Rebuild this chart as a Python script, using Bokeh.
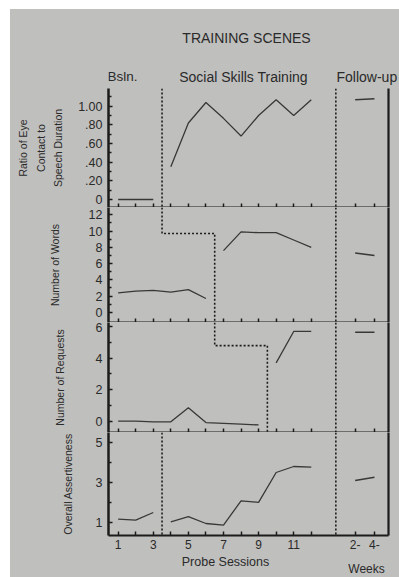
import numpy as np
from bokeh.plotting import figure
from bokeh.models import FixedTicker, LinearAxis, Span, Label, Spacer
from bokeh.layouts import column, row
from bokeh.embed import file_html
from bokeh.resources import INLINE

# ---------------- data ----------------
SESSIONS = list(range(1, 13))
FOLLOWUP_X = [14.5, 15.6]
FOLLOWUP_LABELS = ["2-", "4-"]
FOLLOWUP_LINE_X = 13.4

EYE_BSL = [0.0, 0.0, 0.0]
EYE_TRT = [0.35, 0.82, 1.04, 0.87, 0.68, 0.90, 1.07, 0.90, 1.07]
EYE_FU = [1.07, 1.08]

WORDS_BSL = [2.4, 2.6, 2.7, 2.5, 2.8, 1.7]
WORDS_TRT = [7.6, 9.9, 9.8, 9.8, 8.9, 8.0]
WORDS_FU = [7.3, 7.0]

REQ_BSL = [0.0, 0.0, -0.05, -0.05, 0.85, -0.1, -0.15, -0.2, -0.25]
REQ_TRT = [3.7, 5.7, 5.7]
REQ_FU = [5.65, 5.65]

ASSERT_BSL = [1.17, 1.12, 1.5]
ASSERT_TRT = [1.03, 1.29, 0.95, 0.87, 2.08, 2.01, 3.5, 3.8, 3.77]
ASSERT_FU = [3.1, 3.26]

STEP_LEVELS = [9.7, 4.8]   # heights of the staircase phase line in panels 2 and 3

EYE_TICKS = [0, 0.2, 0.4, 0.6, 0.8, 1.0]
EYE_TICK_LABELS = ["0", ".20", ".40", ".60", ".80", "1.00"]
WORDS_TICKS = [0, 2, 4, 6, 8, 10, 12]
REQ_TICKS = [0, 2, 4, 6]
ASSERT_TICKS = [1, 3, 5]
SESSION_LABELS = ["1", "", "3", "", "5", "", "7", "", "9", "", "11", ""]

TITLE = "TRAINING SCENES"
PHASES = ["Bsln.", "Social Skills Training", "Follow-up"]
YLAB1 = "Ratio of Eye\nContact to\nSpeech Duration"
YLAB2 = "Number of Words"
YLAB3 = "Number of Requests"
YLAB4 = "Overall Assertiveness"
XLAB = "Probe Sessions"
XLAB2 = "Weeks"

# ---------------- style ----------------
BG = "#bfbfbd"
INK = "#2a2a2a"
LINE = "#383838"
AXIS = "#1c1c1c"
FONT = "Liberation Sans"
X_RANGE = (0.45, 16.4)
LEFT = 98


def make_panel(y_range, frame_h, bottom, yticks, ylabel, lab_standoff,
               ylabels=None, yminor=None, last=False):
    p = figure(frame_width=280, frame_height=frame_h, x_range=X_RANGE, y_range=y_range,
               output_backend="svg", toolbar_location=None, title=None,
               min_border_left=LEFT, min_border_right=11, min_border_top=0,
               min_border_bottom=bottom, background_fill_color=BG, border_fill_color=BG,
               outline_line_color=None)
    p.grid.visible = False
    ya = p.yaxis[0]
    ya.ticker = FixedTicker(ticks=yticks, minor_ticks=yminor or [])
    if ylabels:
        ya.major_label_overrides = {t: l for t, l in zip(yticks, ylabels)}
    ya.major_tick_in = 4
    ya.major_tick_out = 0
    ya.minor_tick_in = 3
    ya.minor_tick_out = 0
    ya.axis_line_width = 2.5
    ya.axis_line_color = AXIS
    ya.major_tick_line_color = AXIS
    ya.minor_tick_line_color = AXIS
    ya.major_tick_line_width = 1.5
    ya.minor_tick_line_width = 1.5
    ya.major_label_text_font = FONT
    ya.major_label_text_font_size = "12.5px"
    ya.major_label_text_color = INK
    ya.major_label_standoff = 6
    ya.axis_label = ylabel
    ya.axis_label_text_font = FONT
    ya.axis_label_text_font_size = "10.5px"
    ya.axis_label_text_font_style = "normal"
    ya.axis_label_text_color = INK
    ya.axis_label_text_line_height = 1.45
    ya.axis_label_standoff = lab_standoff

    xa = p.xaxis[0]
    xticks = SESSIONS + FOLLOWUP_X
    xa.ticker = FixedTicker(ticks=xticks, minor_ticks=[])
    xa.major_tick_in = 4
    xa.major_tick_out = 0
    xa.major_tick_line_width = 1.5
    xa.major_tick_line_color = AXIS
    xa.axis_line_width = 2.2
    xa.axis_line_color = AXIS
    if last:
        xa.major_label_overrides = {t: l for t, l in zip(xticks, SESSION_LABELS + FOLLOWUP_LABELS)}
        xa.major_label_text_font = FONT
        xa.major_label_text_font_size = "12px"
        xa.major_label_text_color = INK
        xa.major_label_standoff = 4
    else:
        xa.major_label_overrides = {t: "" for t in xticks}
        xa.major_label_text_font_size = "0px"
        xa.major_label_standoff = 0

    ra = LinearAxis(ticker=FixedTicker(ticks=[]), major_label_text_font_size="0px",
                    major_tick_in=0, major_tick_out=0, minor_tick_in=0, minor_tick_out=0,
                    major_label_standoff=0, axis_line_width=2.2, axis_line_color=AXIS)
    p.add_layout(ra, "right")
    p.add_layout(Span(location=FOLLOWUP_LINE_X, dimension="height", line_color=AXIS,
                      line_dash="2 2", line_width=1.6))
    return p


def data_lines(p, bsl, trt, fu):
    nb = len(bsl)
    p.line(SESSIONS[:nb], bsl, line_color=LINE, line_width=1.3)
    p.line(SESSIONS[nb:], trt, line_color=LINE, line_width=1.3)
    p.line(FOLLOWUP_X, fu, line_color=LINE, line_width=1.6)


def text_strip(h):
    # same left edge as the panels' frames; extends to the right edge of the page
    s = figure(frame_width=291, frame_height=h, x_range=(0, 291), y_range=(0, h),
               output_backend="svg", toolbar_location=None, title=None,
               min_border_left=LEFT, min_border_right=0, min_border_top=0, min_border_bottom=0,
               background_fill_color=BG, border_fill_color=BG,
               outline_line_color=None, x_axis_location=None, y_axis_location=None)
    s.grid.visible = False
    return s


def label(p, text, x, y, size="14px", align="center"):
    p.add_layout(Label(x=x, y=y, text=text, text_font=FONT, text_font_size=size,
                       text_color=INK, text_align=align, text_baseline="middle"))


# ---------- header (titles) ----------
head = text_strip(79)
label(head, TITLE, 138, 51, "14px")
label(head, PHASES[0], 14, 12, "13.5px")
label(head, PHASES[1], 135, 12, "14px")
label(head, PHASES[2], 228, 12, "14px", align="left")

# ---------- panel 1 ----------
p1 = make_panel((-0.086, 1.19), 119, 0, EYE_TICKS, YLAB1, 11, EYE_TICK_LABELS,
                yminor=[0.1, 0.3, 0.5, 0.7, 0.9, 1.1])
data_lines(p1, EYE_BSL, EYE_TRT, EYE_FU)
ph1 = len(EYE_BSL) + 0.5
p1.add_layout(Span(location=ph1, dimension="height", line_color=AXIS, line_dash="2 2", line_width=1.6))

# ---------- panel 2 ----------
w_rng = (-1.25, 12.9)
p2 = make_panel(w_rng, 115, 0, WORDS_TICKS, YLAB2, 25, yminor=[1, 3, 5, 7, 9, 11])
data_lines(p2, WORDS_BSL, WORDS_TRT, WORDS_FU)
ph2 = len(WORDS_BSL) + 0.5
p2.line([ph1, ph1, ph2, ph2], [w_rng[1], STEP_LEVELS[0], STEP_LEVELS[0], w_rng[0]],
        line_color=AXIS, line_dash="2 2", line_width=1.6)

# ---------- panel 3 ----------
r_rng = (-0.73, 6.27)
p3 = make_panel(r_rng, 110, 0, REQ_TICKS, YLAB3, 27, yminor=[1, 3, 5])
data_lines(p3, REQ_BSL, REQ_TRT, REQ_FU)
ph3 = len(REQ_BSL) + 0.5
p3.line([ph2, ph2, ph3, ph3], [r_rng[1], STEP_LEVELS[1], STEP_LEVELS[1], r_rng[0]],
        line_color=AXIS, line_dash="2 2", line_width=1.6)

# ---------- panel 4 ----------
p4 = make_panel((0.35, 5.5), 103, 18, ASSERT_TICKS, YLAB4, 19, yminor=[2, 4], last=True)
data_lines(p4, ASSERT_BSL, ASSERT_TRT, ASSERT_FU)
ph4 = len(ASSERT_BSL) + 0.5
p4.add_layout(Span(location=ph4, dimension="height", line_color=AXIS, line_dash="2 2", line_width=1.6))

# ---------- footer ----------
foot = text_strip(24)
label(foot, XLAB, 117, 16, "12.5px")
label(foot, XLAB2, 258, 9, "12px")

body = column(head, p1, p2, p3, p4, foot, spacing=0, styles={"background-color": BG})
layout = column(Spacer(height=9), row(Spacer(width=10), body, spacing=0), spacing=0)

open("out.html", "w").write(file_html(layout, INLINE))
